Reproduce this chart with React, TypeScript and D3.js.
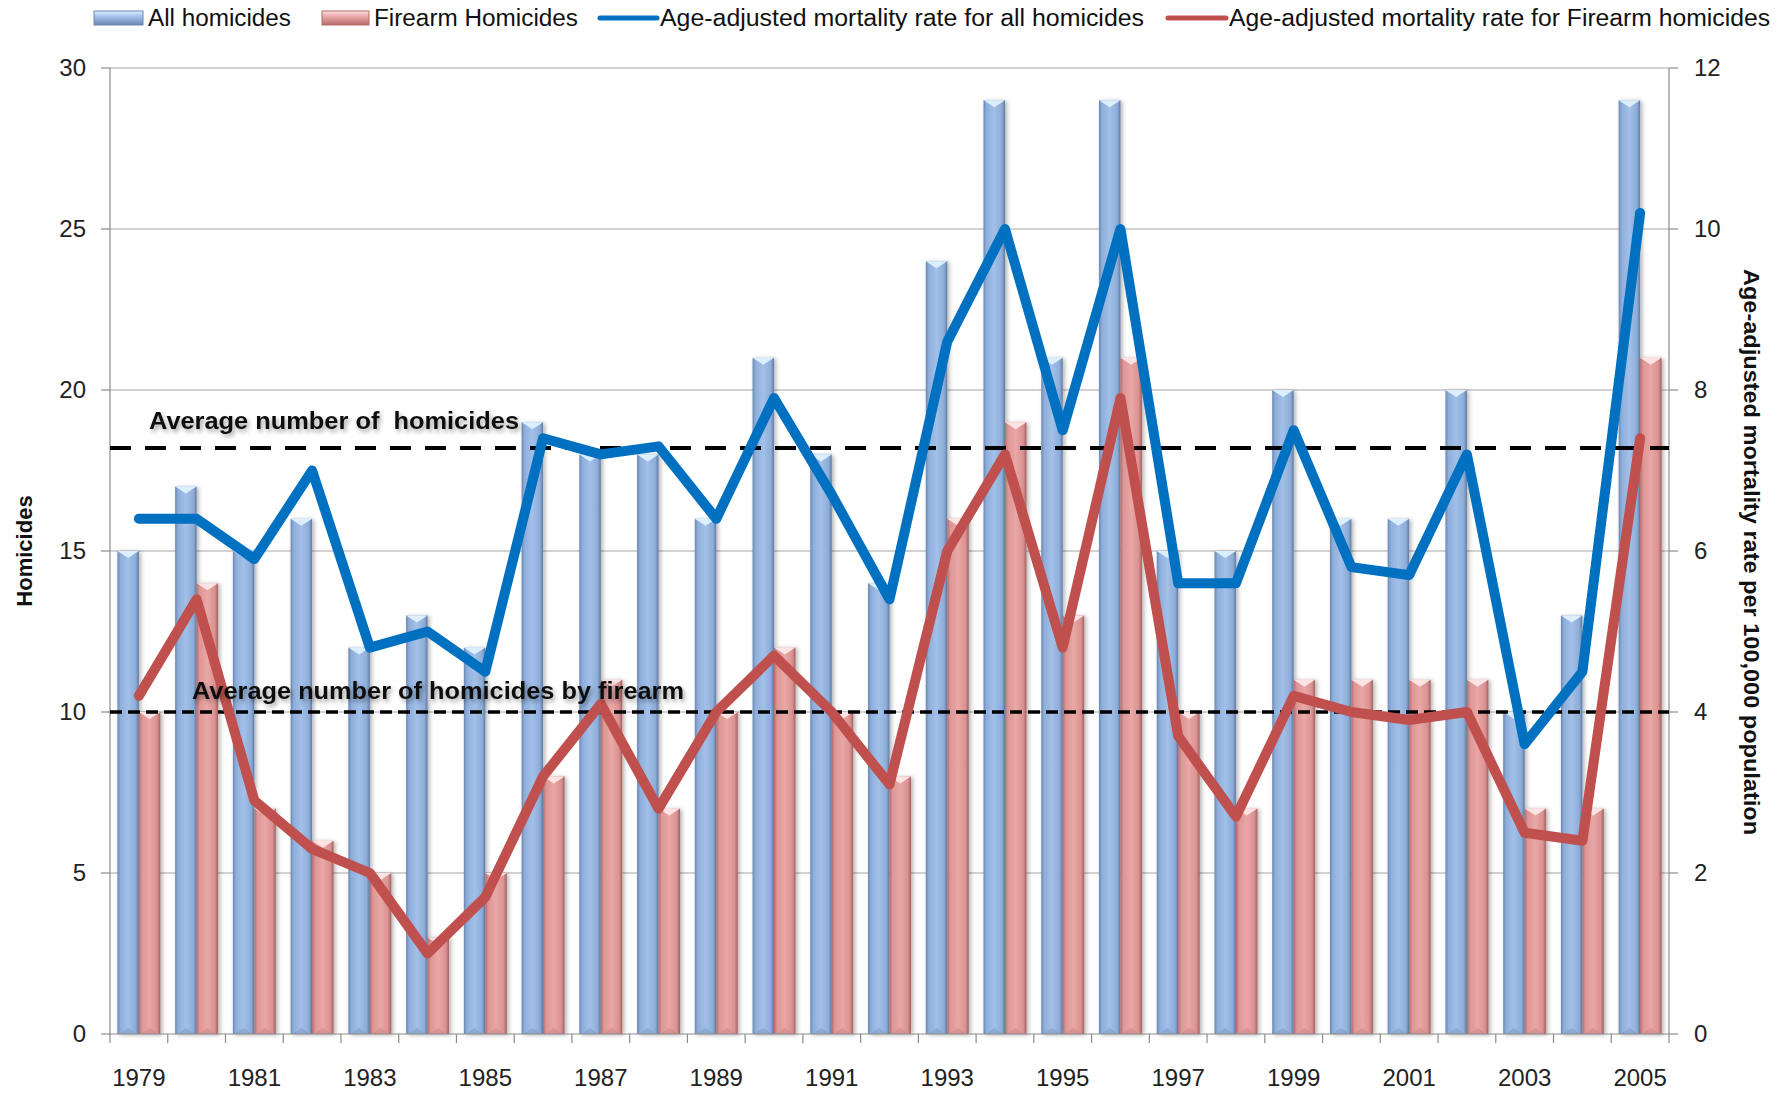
import React from "react"
import * as d3 from "d3"

const width = 1790
const height = 1094
const margin = { top: 68, right: 121, bottom: 60, left: 110 }

const years = [
  "1979", "1980", "1981", "1982", "1983", "1984", "1985", "1986", "1987",
  "1988", "1989", "1990", "1991", "1992", "1993", "1994", "1995", "1996",
  "1997", "1998", "1999", "2000", "2001", "2002", "2003", "2004", "2005",
]
const allHomicides = [15, 17, 15, 16, 12, 13, 12, 19, 18, 18, 16, 21, 18, 14, 24, 29, 21, 29, 15, 15, 20, 16, 16, 20, 10, 13, 29]
const firearmHomicides = [10, 14, 7, 6, 5, 3, 5, 8, 11, 7, 10, 12, 10, 8, 16, 19, 13, 21, 10, 7, 11, 11, 11, 11, 7, 7, 21]
const rateAll = [6.4, 6.4, 5.9, 7.0, 4.8, 5.0, 4.5, 7.4, 7.2, 7.3, 6.4, 7.9, 6.7, 5.4, 8.6, 10.0, 7.5, 10.0, 5.6, 5.6, 7.5, 5.8, 5.7, 7.2, 3.6, 4.5, 10.2]
const rateFirearm = [4.2, 5.4, 2.9, 2.3, 2.0, 1.0, 1.7, 3.2, 4.1, 2.8, 4.0, 4.7, 4.0, 3.1, 6.0, 7.2, 4.8, 7.9, 3.7, 2.7, 4.2, 4.0, 3.9, 4.0, 2.5, 2.4, 7.4]
const avgAll = 18.2
const avgFirearm = 10
const leftTicks = [0, 5, 10, 15, 20, 25, 30]
const rightTicks = [0, 2, 4, 6, 8, 10, 12]

const font = "'Liberation Sans', Arial, sans-serif"

export default function App() {
  const x0 = margin.left
  const x1 = width - margin.right
  const yBase = 1034
  const x = d3.scaleBand().domain(years).range([x0, x1]).padding(0)
  const bw = x.bandwidth()
  const inner = d3.scaleBand().domain(["all", "firearm"]).range([7.4, bw - 7.4]).padding(0)
  const yL = d3.scaleLinear().domain([0, 30]).range([yBase, margin.top])
  const yR = d3.scaleLinear().domain([0, 12]).range([yBase, margin.top])
  const line = d3.line<number>()
    .x((_, i) => (x(years[i]) ?? 0) + bw / 2)
    .y(d => yR(d))

  const bar = (key: "all" | "firearm", vals: number[]) =>
    vals.map((v, i) => {
      const bx = (x(years[i]) ?? 0) + (inner(key) ?? 0)
      const w = inner.bandwidth()
      const top = yL(v)
      const h = yBase - top
      return (
        <g key={key + i} filter="url(#barShadow)">
          <rect x={bx} y={top} width={w} height={h} fill={`url(#grad-${key})`} />
          <polygon
            points={`${bx},${top} ${bx + w},${top} ${bx + w / 2},${top + 7}`}
            fill={key === "all" ? "#dcefff" : "#fde3e3"}
          />
          <polygon
            points={`${bx + 2},${yBase} ${bx + w - 2},${yBase} ${bx + w / 2},${yBase - 6}`}
            fill={key === "all" ? "#7f9cc6" : "#cf8785"}
            opacity={0.6}
          />
        </g>
      )
    })

  return (
    <svg
      width={width}
      height={height}
      style={{ position: "absolute", left: 0, top: 0, background: "#fff", fontFamily: font }}
    >
      <defs>
        <linearGradient id="grad-all" x1="0" x2="1" y1="0" y2="0">
          <stop offset="0%" stopColor="#6a87b2" />
          <stop offset="14%" stopColor="#8eaedb" />
          <stop offset="50%" stopColor="#a2c0e8" />
          <stop offset="85%" stopColor="#8dadd8" />
          <stop offset="100%" stopColor="#5f7ba5" />
        </linearGradient>
        <linearGradient id="grad-firearm" x1="0" x2="1" y1="0" y2="0">
          <stop offset="0%" stopColor="#b66b6a" />
          <stop offset="14%" stopColor="#dc9695" />
          <stop offset="50%" stopColor="#e9a7a6" />
          <stop offset="85%" stopColor="#d99291" />
          <stop offset="100%" stopColor="#a45f5e" />
        </linearGradient>
        <linearGradient id="leg-all" x1="0" x2="0" y1="0" y2="1">
          <stop offset="0%" stopColor="#dcefff" />
          <stop offset="40%" stopColor="#a2c0e8" />
          <stop offset="100%" stopColor="#6a87b2" />
        </linearGradient>
        <linearGradient id="leg-firearm" x1="0" x2="0" y1="0" y2="1">
          <stop offset="0%" stopColor="#fde3e3" />
          <stop offset="40%" stopColor="#e9a7a6" />
          <stop offset="100%" stopColor="#b66b6a" />
        </linearGradient>
        <filter id="barShadow" x="-30%" y="-5%" width="160%" height="115%">
          <feDropShadow dx="2" dy="1" stdDeviation="2" floodColor="#000" floodOpacity="0.3" />
        </filter>
        <filter id="textShadow" x="-5%" y="-30%" width="110%" height="170%">
          <feDropShadow dx="2" dy="3" stdDeviation="2" floodColor="#000" floodOpacity="0.35" />
        </filter>
      </defs>

      {/* gridlines */}
      {leftTicks.filter(t => t > 0).map(t => (
        <line key={t} x1={x0} x2={x1} y1={yL(t)} y2={yL(t)} stroke="#a6a6a6" strokeWidth={1.2} />
      ))}

      {/* bars */}
      {bar("all", allHomicides)}
      {bar("firearm", firearmHomicides)}

      {/* axes */}
      <line x1={x0} x2={x0} y1={margin.top} y2={yBase} stroke="#8c8c8c" strokeWidth={1.2} />
      <line x1={x1} x2={x1} y1={margin.top} y2={yBase} stroke="#8c8c8c" strokeWidth={1.2} />
      <line x1={x0} x2={x1} y1={yBase} y2={yBase} stroke="#8c8c8c" strokeWidth={1.2} />
      {leftTicks.map(t => (
        <g key={"l" + t}>
          <line x1={x0 - 9} x2={x0} y1={yL(t)} y2={yL(t)} stroke="#8c8c8c" strokeWidth={1.2} />
          <text x={86} y={yL(t)} dy="0.35em" textAnchor="end" fontSize={24} fill="#222">{t}</text>
        </g>
      ))}
      {rightTicks.map(t => (
        <g key={"r" + t}>
          <line x1={x1} x2={x1 + 9} y1={yR(t)} y2={yR(t)} stroke="#8c8c8c" strokeWidth={1.2} />
          <text x={1694} y={yR(t)} dy="0.35em" textAnchor="start" fontSize={24} fill="#222">{t}</text>
        </g>
      ))}
      {years.map(yr => (
        <line key={"xt" + yr} x1={x(yr)} x2={x(yr)} y1={yBase} y2={yBase + 9} stroke="#8c8c8c" strokeWidth={1.2} />
      ))}
      <line x1={x1} x2={x1} y1={yBase} y2={yBase + 9} stroke="#8c8c8c" strokeWidth={1.2} />
      {years.filter((_, i) => i % 2 === 0).map(yr => (
        <text key={"xl" + yr} x={(x(yr) ?? 0) + bw / 2} y={1078} dy="0.35em" textAnchor="middle" fontSize={24} fill="#222">
          {yr}
        </text>
      ))}

      {/* axis titles */}
      <text
        transform={`translate(24, 551) rotate(-90)`}
        textAnchor="middle"
        dy="0.35em"
        fontSize={22}
        fontWeight="bold"
        fill="#111"
      >
        Homicides
      </text>
      <text
        transform={`translate(1752, 552) rotate(90)`}
        textAnchor="middle"
        dy="0.35em"
        fontSize={22}
        fontWeight="bold"
        fill="#111"
        textLength={566}
        lengthAdjust="spacingAndGlyphs"
      >
        Age-adjusted mortality rate per 100,000 population
      </text>

      {/* average lines */}
      <line x1={x0} x2={x1} y1={yL(avgAll)} y2={yL(avgAll)} stroke="#000" strokeWidth={4} strokeDasharray="21 14" />
      <line x1={x0} x2={x1} y1={yL(avgFirearm)} y2={yL(avgFirearm)} stroke="#000" strokeWidth={3.5} strokeDasharray="12 6" />

      {/* rate lines */}
      <path d={line(rateAll) ?? ""} fill="none" stroke="#0070c0" strokeWidth={10} strokeLinejoin="round" strokeLinecap="round" />
      <path d={line(rateFirearm) ?? ""} fill="none" stroke="#c0504d" strokeWidth={10} strokeLinejoin="round" strokeLinecap="round" />

      {/* average labels */}
      <text x={149} y={429} fontSize={24} fontWeight="bold" fill="#111" filter="url(#textShadow)"
        textLength={370} lengthAdjust="spacingAndGlyphs">
        Average number of{"\u00a0\u00a0"}homicides
      </text>
      <text x={192} y={699} fontSize={24} fontWeight="bold" fill="#111" filter="url(#textShadow)"
        textLength={492} lengthAdjust="spacingAndGlyphs">
        Average number of homicides by firearm
      </text>

      {/* legend */}
      <g fontSize={23} fill="#111">
        <rect x={94} y={11} width={49} height={14} fill="url(#leg-all)" stroke="#6a87b2" strokeWidth={1} />
        <text x={148} y={18} dy="0.35em" textLength={143} lengthAdjust="spacingAndGlyphs">All homicides</text>
        <rect x={322} y={11} width={47} height={14} fill="url(#leg-firearm)" stroke="#b66b6a" strokeWidth={1} />
        <text x={374} y={18} dy="0.35em" textLength={204} lengthAdjust="spacingAndGlyphs">Firearm Homicides</text>
        <line x1={600} x2={657} y1={18} y2={18} stroke="#0070c0" strokeWidth={5} strokeLinecap="round" />
        <text x={660} y={18} dy="0.35em" textLength={484} lengthAdjust="spacingAndGlyphs">Age-adjusted mortality rate for all homicides</text>
        <line x1={1168} x2={1226} y1={18} y2={18} stroke="#c0504d" strokeWidth={5} strokeLinecap="round" />
        <text x={1229} y={18} dy="0.35em" textLength={541} lengthAdjust="spacingAndGlyphs">Age-adjusted mortality rate for Firearm homicides</text>
      </g>
    </svg>
  )
}
